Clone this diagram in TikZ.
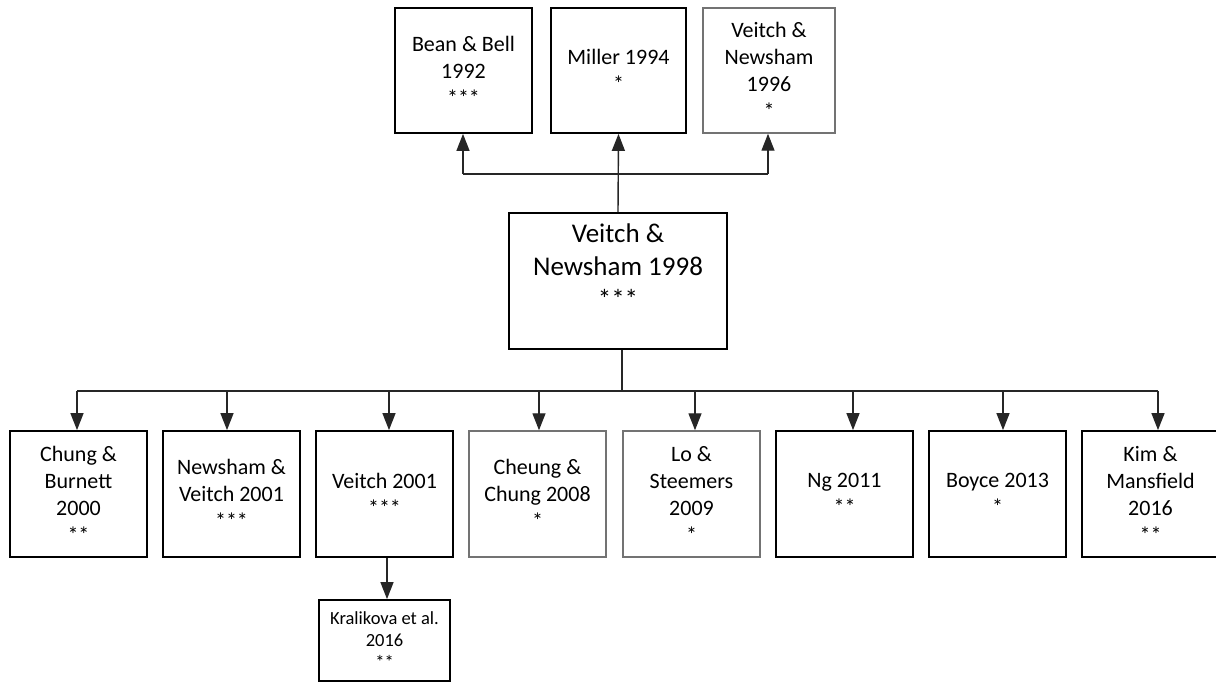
\documentclass[tikz,border=0pt]{standalone}
\usepackage{fontspec}
\setmainfont{Carlito}
\usetikzlibrary{arrows.meta}
\begin{document}
\begin{tikzpicture}[x=1pt,y=-1pt,
  box/.style={draw=black, line width=1.8pt, minimum width=137pt, minimum height=126pt,
    align=center, inner sep=0pt, font=\fontsize{22}{27}\selectfont},
  lbox/.style={box, draw=black!55, line width=1.5pt},
  conn/.style={line width=1.4pt, draw=black!85},
  arr/.style={conn, -{Triangle[length=17pt,width=13pt]}}]
\useasboundingbox[fill=white] (0,0) rectangle (1216,682);
% top row
\node[box, minimum height=125pt] (bean) at (463.5,70.5) {Bean \& Bell\\1992\\***};
\node[box, minimum width=135pt, minimum height=125pt] (miller) at (618.5,70.5) {Miller 1994\\*};
\node[lbox, minimum width=132pt, minimum height=125pt] (vn96) at (769,70.5) {Veitch \&\\Newsham\\1996\\*};
% centre
\node[box, minimum width=218pt, minimum height=136pt] (vn98) at (618,281) {};
\node[align=center, font=\fontsize{27}{33}\selectfont] (vn98t) at (618,266) {Veitch \&\\Newsham 1998\\***};
% bottom row
\node[box] (cb) at (78.5,494) {Chung \&\\Burnett\\2000\\**};
\node[box] (nv) at (231.5,494) {Newsham \&\\Veitch 2001\\***};
\node[box] (v01) at (384.5,494) {Veitch 2001\\***};
\node[lbox] (cc) at (537.5,494) {Cheung \&\\Chung 2008\\*};
\node[lbox] (ls) at (691.5,494) {Lo \&\\Steemers\\2009\\*};
\node[box] (ng) at (844.5,494) {Ng 2011\\**};
\node[box] (by) at (997.5,494) {Boyce 2013\\*};
\node[box, minimum width=144pt] (kmb) at (1154,494) {};
\node[align=center, font=\fontsize{22}{27}\selectfont] (km) at (1150.5,494) {Kim \&\\Mansfield\\2016\\**};
% Kralikova
\node[box, minimum width=131pt, minimum height=81pt] (kr) at (384.5,640.5) {};
\node[align=center, font=\fontsize{18.5}{22}\selectfont, anchor=north] (krt) at (384.5,608) {Kralikova et al.\\2016\\**};
% top connectors
\coordinate (tbL) at (463,174);
\coordinate (tbR) at (768,174);
\draw[arr] (vn98.north) -- (miller.south);
\draw[conn] (tbL) -- (tbR);
\draw[arr] (tbL) -- (tbL |- bean.south);
\draw[arr] (tbR) -- (tbR |- vn96.south);
% bottom connectors
\coordinate (bb) at (622,391);
\draw[conn] (vn98.south -| bb) -- (bb);
\coordinate (b1) at (77,391);
\coordinate (b2) at (227,391);
\coordinate (b3) at (389,391);
\coordinate (b4) at (539,391);
\coordinate (b5) at (695,391);
\coordinate (b6) at (853,391);
\coordinate (b7) at (1003,391);
\coordinate (b8) at (1158,391);
\draw[conn] (b1) -- (b8);
\draw[arr] (b1) -- (b1 |- cb.north);
\draw[arr] (b2) -- (b2 |- nv.north);
\draw[arr] (b3) -- (b3 |- v01.north);
\draw[arr] (b4) -- (b4 |- cc.north);
\draw[arr] (b5) -- (b5 |- ls.north);
\draw[arr] (b6) -- (b6 |- ng.north);
\draw[arr] (b7) -- (b7 |- by.north);
\draw[arr] (b8) -- (b8 |- kmb.north);
\coordinate (kx) at (387,557);
\draw[arr] (v01.south -| kx) -- (kx |- kr.north);
\end{tikzpicture}
\end{document}
